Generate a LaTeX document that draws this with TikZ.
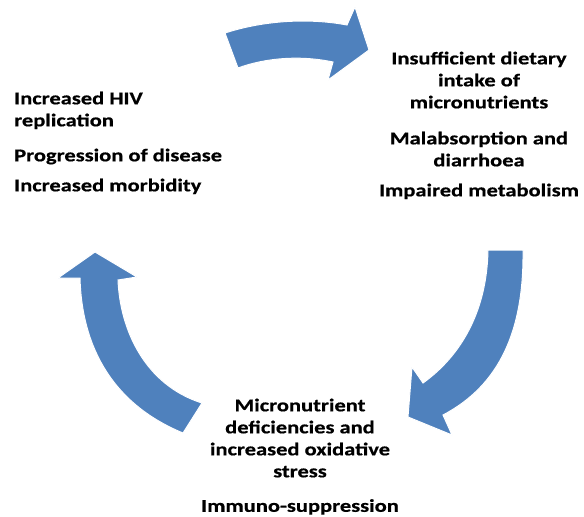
\documentclass[tikz,border=0pt]{standalone}
\usepackage{fontspec}
\usepackage{tikz}
\newfontfamily\lblfont[FakeStretch=1.25,FakeBold=0.6]{Carlito}
\definecolor{cycleblue}{RGB}{79,129,189}

\begin{document}
\begin{tikzpicture}[x=1pt,y=-1pt,
  lbl/.style={inner sep=0pt,font=\lblfont\bfseries\fontsize{18}{22}\selectfont},
  cyclearrow/.style={fill=cycleblue,draw=white,line width=1pt}]
\useasboundingbox (0,0) rectangle (584,517);

% top arrow
\fill[cyclearrow] (225,33) .. controls (265,20) and (310,18) .. (347,25) -- (355,7) -- (369,50) -- (328,80) -- (333,62) .. controls (300,55) and (265,58) .. (238,68) -- cycle;
% right arrow
\fill[cyclearrow] (488,250) -- (523,250) .. controls (524,330) and (500,385) .. (443,415) -- (452,435) -- (408,417) -- (412,367) -- (423,383) .. controls (462,355) and (487,310) .. (488,250) -- cycle;
% left arrow
\fill[cyclearrow] (183,433) -- (202,403) .. controls (145,385) and (120,330) .. (118,280) -- (137,277) -- (95,252) -- (58,278) -- (80,278) .. controls (82,350) and (115,405) .. (183,433) -- cycle;

\node[lbl,anchor=north west,align=left] (hiv) at (14,91.5){Increased HIV\\replication};
\node[lbl,anchor=north west,align=left] (prog) at (14,148.5){Progression of disease};
\node[lbl,anchor=north west,align=left] (morb) at (14,178.5){Increased morbidity};

\node[lbl,anchor=north,align=center] (intake) at (479,51.5){Insufficient dietary\\intake of\\micronutrients};
\node[lbl,anchor=north,align=center] (malab) at (479,131.5){Malabsorption and\\diarrhoea};
\node[lbl,anchor=north,align=center] (metab) at (479,183.5){Impaired metabolism};

\node[lbl,anchor=north,align=center] (defic) at (300,398.5){Micronutrient\\deficiencies and\\increased oxidative\\stress};
\node[lbl,anchor=north,align=center] (immuno) at (300,499){Immuno-suppression};

\end{tikzpicture}
\end{document}
